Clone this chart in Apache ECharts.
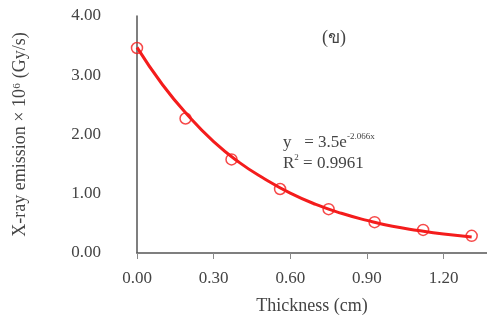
<!DOCTYPE html>
<html>
<head>
<meta charset="utf-8">
<script src="https://cdn.jsdelivr.net/npm/echarts@6/dist/echarts.min.js"></script>
<style>
  html, body { margin: 0; padding: 0; background: #fff; }
  #chart { width: 487px; height: 322px; }
</style>
</head>
<body>
<div id="chart"></div>
<script>
// measured points (thickness cm, emission x10^6 Gy/s)
const thickness = [0.00, 0.19, 0.37, 0.56, 0.75, 0.93, 1.12, 1.31];
const emission = [3.46, 2.27, 1.58, 1.08, 0.74, 0.52, 0.39, 0.29];

// fitted curve
const fitX = [0.00, 0.10, 0.20, 0.30, 0.40, 0.50, 0.60, 0.70, 0.80, 0.90, 1.00, 1.10, 1.20, 1.31];
const fitY = [3.47, 2.84, 2.32, 1.88, 1.53, 1.25, 1.01, 0.82, 0.67, 0.55, 0.45, 0.38, 0.32, 0.27];

const font = '"Liberation Serif", "Times New Roman", serif';
const red = '#f41c1c';
const axisGray = '#555';
const textGray = '#444';

const chart = echarts.init(document.getElementById('chart'));

chart.setOption({
  backgroundColor: '#fff',
  animation: false,
  grid: { left: 137, right: 0, top: 16, bottom: 69 },
  xAxis: {
    type: 'value',
    min: 0,
    max: 1.37,
    interval: 0.3,
    name: 'Thickness (cm)',
    nameLocation: 'middle',
    nameGap: 44,
    nameTextStyle: { fontFamily: font, fontSize: 18, color: textGray },
    axisLine: { lineStyle: { color: axisGray, width: 1.5 } },
    axisTick: { show: true, inside: false, length: 6, lineStyle: { color: '#888' } },
    axisLabel: {
      fontFamily: font, fontSize: 17, color: textGray, margin: 17,
      showMaxLabel: false,
      formatter: v => v.toFixed(2)
    },
    splitLine: { show: false }
  },
  yAxis: {
    type: 'value',
    min: 0,
    max: 4,
    interval: 1,
    name: 'X-ray emission × 10⁶ (Gy/s)',
    nameLocation: 'middle',
    nameGap: 108,
    nameTextStyle: { fontFamily: font, fontSize: 18, color: textGray },
    axisLine: { show: true, lineStyle: { color: axisGray, width: 1.5 } },
    axisTick: { show: false },
    axisLabel: {
      fontFamily: font, fontSize: 17, color: textGray, margin: 36,
      formatter: v => v.toFixed(2)
    },
    splitLine: { show: false }
  },
  graphic: [
    {
      type: 'text', left: 322, top: 29,
      style: { text: '(ข)', font: '18px ' + font, fill: textGray }
    },
    {
      type: 'text', left: 283, top: 132,
      style: {
        text: '{t|y   = 3.5e}{s|-2.066x}\n{t|R}{s|2}{t| = 0.9961}',
        rich: {
          t: { fontFamily: font, fontSize: 17, fill: textGray, lineHeight: 21 },
          s: { fontFamily: font, fontSize: 9, fill: textGray, verticalAlign: 'top', lineHeight: 21, padding: [0, 0, 9, 0] }
        }
      }
    }
  ],
  series: [
    {
      type: 'line',
      data: fitX.map((x, i) => [x, fitY[i]]),
      smooth: true,
      symbol: 'none',
      lineStyle: { color: red, width: 3 },
      z: 2
    },
    {
      type: 'scatter',
      data: thickness.map((x, i) => [x, emission[i]]),
      symbol: 'circle',
      symbolSize: 11,
      itemStyle: { color: 'rgba(255,255,255,0)', borderColor: red, borderWidth: 1.5 },
      z: 3
    }
  ]
});
</script>
</body>
</html>
